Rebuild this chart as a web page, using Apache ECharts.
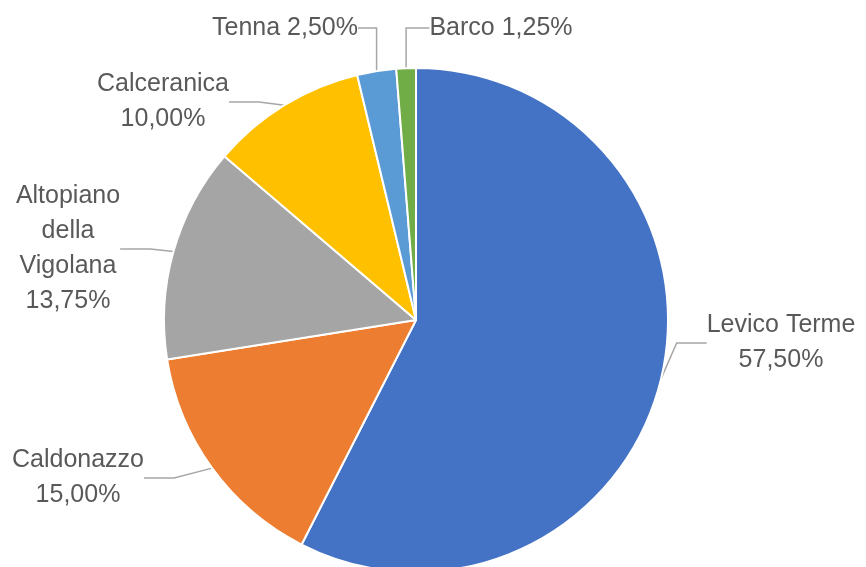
<!DOCTYPE html>
<html>
<head>
<meta charset="utf-8">
<script src="https://cdn.jsdelivr.net/npm/echarts@6/dist/echarts.min.js"></script>
<style>
  html, body { margin: 0; padding: 0; background: #fff; }
  #chart { width: 866px; height: 567px; }
</style>
</head>
<body>
<div id="chart"></div>
<script>
// comuni e quote (%)
var names = ['Levico Terme', 'Caldonazzo', 'Altopiano della Vigolana', 'Calceranica', 'Tenna', 'Barco'];
var shares = [57.5, 15, 13.75, 10, 2.5, 1.25];
var colors = ['#4472C4', '#ED7D31', '#A5A5A5', '#FFC000', '#5B9BD5', '#70AD47'];

// where each label sits (centre of the text block)
var labelPos = {
  'Levico Terme': [781, 343],
  'Caldonazzo': [78, 478],
  'Altopiano della Vigolana': [68, 249],
  'Calceranica': [163, 102],
  'Tenna': [285, 28],
  'Barco': [501, 28]
};

function fmtPct(v) {
  return v.toFixed(2).replace('.', ',') + '%';
}

var chart = echarts.init(document.getElementById('chart'), null, { renderer: 'canvas' });

var data = names.map(function (n, i) {
  return { name: n, value: shares[i], itemStyle: { color: colors[i] } };
});

var option = {
  animation: false,
  series: [{
    type: 'pie',
    center: [416, 320],
    radius: [0, 252],
    startAngle: 90,
    clockwise: true,
    data: data,
    itemStyle: { borderColor: '#fff', borderWidth: 2 },
    label: {
      show: true,
      color: '#595959',
      fontFamily: 'Liberation Sans',
      fontSize: 25,
      lineHeight: 35,
      align: 'center',
      overflow: 'none',
      formatter: function (p) {
        var n = p.name;
        if (n === 'Tenna' || n === 'Barco') return n + ' ' + fmtPct(p.value);
        if (n === 'Altopiano della Vigolana') n = 'Altopiano\ndella\nVigolana';
        return n + '\n' + fmtPct(p.value);
      }
    },
    labelLine: {
      show: true,
      lineStyle: { color: '#A6A6A6', width: 1.5 }
    },
    labelLayout: function (params) {
      var pos = labelPos[names[params.dataIndex]];
      return {
        x: pos[0],
        y: pos[1],
        align: 'center',
        verticalAlign: 'middle'
      };
    }
  }]
};

chart.setOption(option);
</script>
</body>
</html>
